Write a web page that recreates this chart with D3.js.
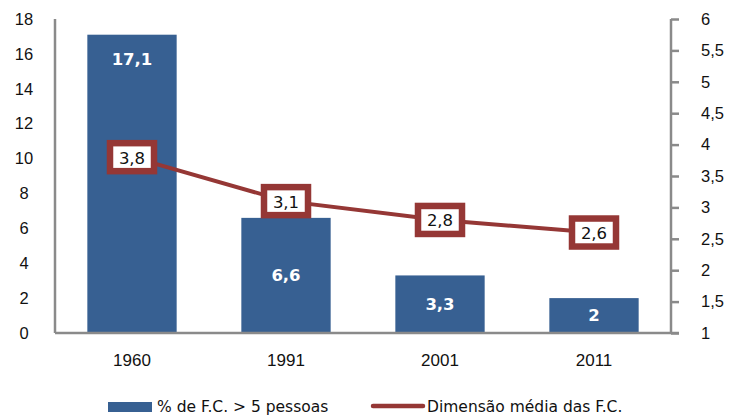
<!DOCTYPE html>
<html>
<head>
<meta charset="utf-8">
<style>
    body { margin: 0; background: #fff; }
    svg { display: block; font-family: 'DejaVu Sans', sans-serif; }
    .tick text { font-size: 16.5px; fill: #111; }
    .x-axis .tick text { font-size: 17px; }
    .bar-label { font-size: 16.5px; font-weight: bold; fill: #fff; }
    .marker-label { font-size: 16.5px; fill: #111; }
    .legend text { font-size: 15.5px; fill: #111; }
</style>
</head>
<body>
<svg width="731" height="420"></svg>
<script src="https://d3js.org/d3.v7.min.js"></script>
<script>
    let years = ["1960", "1991", "2001", "2011"]
    let pctLarge = [17.1, 6.6, 3.3, 2]        // % de F.C. > 5 pessoas
    let avgSize = [3.8, 3.1, 2.8, 2.6]        // Dimensão média das F.C.
    let leftTicks = [0, 2, 4, 6, 8, 10, 12, 14, 16, 18]
    let rightTicks = [1, 1.5, 2, 2.5, 3, 3.5, 4, 4.5, 5, 5.5, 6]
    let seriesNames = ["% de F.C. > 5 pessoas", "Dimensão média das F.C."]

    let blue = "#376092"
    let red = "#953735"
    let axisGray = "#8a8a8a"

    let margin = { top: 19, right: 60, bottom: 87, left: 55 }
    let width = 731, height = 420

    let svg = d3.select("svg")
    let fmt = d => String(d).replace(".", ",")

    let x = d3.scaleBand()
        .domain(years)
        .range([margin.left, width - margin.right])
        .paddingInner(0.42)
        .paddingOuter(0.21)

    let yL = d3.scaleLinear()
        .domain([0, 18])
        .range([height - margin.bottom, margin.top])

    let yR = d3.scaleLinear()
        .domain([1, 6])
        .range([height - margin.bottom, margin.top])

    // bars
    svg.append("g")
        .selectAll("rect")
        .data(pctLarge)
        .join("rect")
        .attr("x", (d, i) => x(years[i]))
        .attr("y", d => yL(d))
        .attr("width", x.bandwidth())
        .attr("height", d => yL(0) - yL(d))
        .attr("fill", blue)

    svg.append("g")
        .selectAll("text")
        .data(pctLarge)
        .join("text")
        .attr("class", "bar-label")
        .attr("text-anchor", "middle")
        .attr("dominant-baseline", "central")
        .attr("x", (d, i) => x(years[i]) + x.bandwidth() / 2)
        .attr("y", d => {
            let h = yL(0) - yL(d)
            return h > 150 ? yL(d) + 25 : (yL(d) + yL(0)) / 2
        })
        .text(d => fmt(d))

    // left axis
    svg.append("g")
        .attr("transform", "translate(" + margin.left + ",0)")
        .call(d3.axisLeft(yL).tickValues(leftTicks).tickSize(0).tickPadding(0).tickFormat(fmt))
        .call(g => g.select(".domain").remove())
        .call(g => g.selectAll(".tick text")
            .attr("x", -31)
            .attr("text-anchor", "middle"))

    svg.append("line")
        .attr("x1", margin.left).attr("x2", margin.left)
        .attr("y1", yL(18)).attr("y2", yL(0))
        .attr("stroke", axisGray).attr("stroke-width", 2.5)

    // right axis
    svg.append("g")
        .attr("transform", "translate(" + (width - margin.right) + ",0)")
        .call(d3.axisRight(yR).tickValues(rightTicks).tickSize(8).tickPadding(22).tickFormat(fmt))
        .call(g => g.select(".domain")
            .attr("stroke", axisGray).attr("stroke-width", 2.5)
            .attr("d", "M0," + yR(6) + "V" + yR(1)))
        .call(g => g.selectAll(".tick line").attr("stroke", axisGray).attr("stroke-width", 2.5))

    // x axis baseline + labels
    svg.append("line")
        .attr("x1", margin.left).attr("x2", width - margin.right + 8)
        .attr("y1", yL(0)).attr("y2", yL(0))
        .attr("stroke", axisGray).attr("stroke-width", 2.5)

    svg.append("g")
        .attr("class", "x-axis")
        .attr("transform", "translate(0," + yL(0) + ")")
        .call(d3.axisBottom(x).tickSize(0).tickPadding(21))
        .call(g => g.select(".domain").remove())

    // line series
    let line = d3.line()
        .x((d, i) => x(years[i]) + x.bandwidth() / 2)
        .y(d => yR(d))

    svg.append("path")
        .datum(avgSize)
        .attr("fill", "none")
        .attr("stroke", red)
        .attr("stroke-width", 4)
        .attr("d", line)

    let markers = svg.append("g")
        .selectAll("g")
        .data(avgSize)
        .join("g")
        .attr("transform", (d, i) => "translate(" + (x(years[i]) + x.bandwidth() / 2) + "," + yR(d) + ")")

    markers.append("rect")
        .attr("x", -22).attr("y", -14)
        .attr("width", 44).attr("height", 28)
        .attr("fill", "#fff")
        .attr("stroke", red)
        .attr("stroke-width", 6.5)

    markers.append("text")
        .attr("class", "marker-label")
        .attr("text-anchor", "middle")
        .attr("dominant-baseline", "central")
        .attr("y", 1)
        .text(d => fmt(d))

    // legend
    let legend = svg.append("g").attr("class", "legend")
    legend.append("rect")
        .attr("x", 108).attr("y", 402)
        .attr("width", 44).attr("height", 10)
        .attr("fill", blue)
    legend.append("text")
        .attr("x", 157).attr("y", 407)
        .attr("dominant-baseline", "central")
        .text(seriesNames[0])
    legend.append("line")
        .attr("x1", 373).attr("x2", 423)
        .attr("y1", 406).attr("y2", 406)
        .attr("stroke", red).attr("stroke-width", 4.5)
        .attr("stroke-linecap", "round")
    legend.append("text")
        .attr("x", 427).attr("y", 407)
        .attr("dominant-baseline", "central")
        .text(seriesNames[1])
</script>
</body>
</html>
